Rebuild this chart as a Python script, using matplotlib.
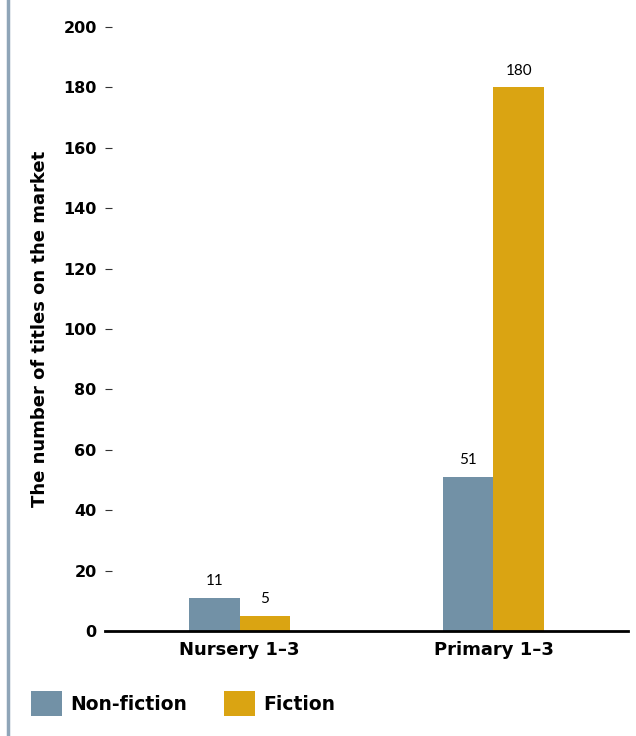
import numpy as np
import matplotlib.pyplot as plt
from matplotlib.lines import Line2D

plt.rcParams['font.family'] = ['Lato', 'DejaVu Sans']
BOLD = 'DejaVu Sans'

categories = ['Nursery 1–3', 'Primary 1–3']
non_fiction = [11, 51]
fiction = [5, 180]
yticks = [0, 20, 40, 60, 80, 100, 120, 140, 160, 180, 200]

c_non = '#7291A6'
c_fic = '#DAA412'

fig = plt.figure(figsize=(6.36, 7.36), dpi=100)
ax = fig.add_axes([105/636, 1 - 631/736, 523/636, 604/736])

x = np.arange(len(categories))
w = 0.2
b1 = ax.bar(x - w/2, non_fiction, width=w, color=c_non, label='Non-fiction')
b2 = ax.bar(x + w/2, fiction, width=w, color=c_fic, label='Fiction')
ax.bar_label(b1, padding=7, fontsize=11)
ax.bar_label(b2, padding=7, fontsize=11)

ax.set_xlim(-0.53, 1.53)
ax.set_ylim(0, 200)
ax.set_yticks(yticks)
ax.set_yticklabels([str(v) for v in yticks], family=BOLD, fontweight='bold', fontsize=11.5)
ax.set_xticks(x)
ax.set_xticklabels(categories, family=BOLD, fontsize=13, fontweight='bold')
ax.tick_params(axis='y', direction='in', length=5, width=0.8, pad=6, color='#333333')
ax.tick_params(axis='x', length=0, pad=7)
for s in ['top', 'right', 'left']:
    ax.spines[s].set_visible(False)
ax.spines['bottom'].set_linewidth(2)
ax.set_ylabel('The number of titles on the market', family=BOLD, fontsize=13,
              fontweight='bold', labelpad=10)

fig.legend(handles=[b1, b2], loc='lower left', bbox_to_anchor=(0.022, 0.004),
           ncol=2, frameon=False, prop={'family': BOLD, 'weight': 'bold', 'size': 13.5},
           handlelength=1.65, handleheight=1.65, handletextpad=0.43, columnspacing=2.0)

# left border line
fig.add_artist(Line2D([8/636, 8/636], [0, 1], color='#8FA5B8', linewidth=2.5))

fig.savefig('out.png', dpi=100)
